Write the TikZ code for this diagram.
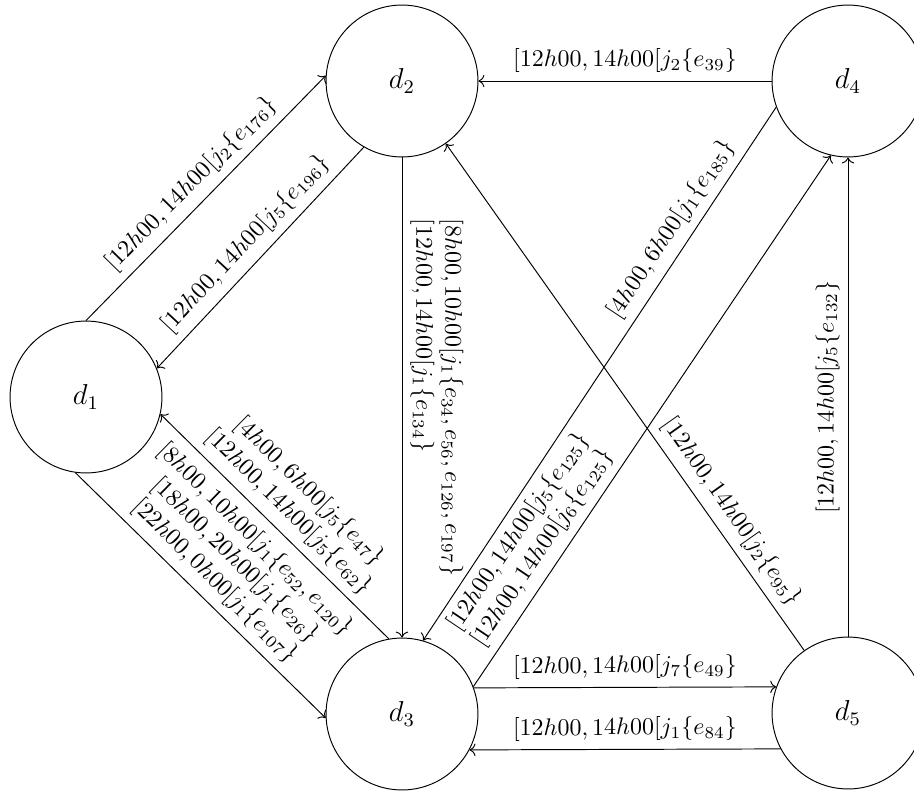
\documentclass[tikz,border=0pt]{standalone}
\usetikzlibrary{arrows.meta}
\begin{document}
\begin{tikzpicture}[x=0.4167pt,y=-0.4167pt,
  state/.style={circle,draw,minimum size=63.3pt,inner sep=0pt,font=\large},
  lab/.style={sloped,above,align=center,font=\normalsize},
  every edge/.style={draw,->}]
\useasboundingbox (0,0) rectangle (914,791);
\node[state] (d1) at (86,397) {$d_1$};
\node[state] (d2) at (402,81) {$d_2$};
\node[state] (d3) at (402,714) {$d_3$};
\node[state] (d4) at (848,81) {$d_4$};
\node[state] (d5) at (848,713) {$d_5$};

\draw[->] (d1.90) -- node[lab]{$[12h00, 14h00[j_2\{e_{176}\}$} (d2.176);
\draw[->] (d2.240) -- node[lab]{$[12h00, 14h00[j_5\{e_{196}\}$} (d1.22);
\draw[->] (d2.south) -- node[lab,align=left]{$[8h00, 10h00[j_1\{e_{34}, e_{56}, e_{126}, e_{197}\}$\\$[12h00, 14h00[j_1\{e_{134}\}$} (d3.north);
\draw[->] (d3.100) -- node[lab]{$[4h00, 6h00[j_5\{e_{47}\}$\\$[12h00, 14h00[j_5\{e_{62}\}$} (d1.-13);
\draw[->] (d1.262) -- node[lab]{$[8h00, 10h00[j_1\{e_{52}, e_{120}\}$\\$[18h00, 20h00[j_1\{e_{26}\}$\\$[22h00, 0h00[j_1\{e_{107}\}$} (d3.183);
\draw[->] (d4.west) -- node[lab]{$[12h00, 14h00[j_2\{e_{39}\}$} (d2.east);
\draw[->] (d3.20) -- node[lab]{$[12h00, 14h00[j_7\{e_{49}\}$} (d5.160);
\draw[->] (d5.208) -- node[lab]{$[12h00, 14h00[j_1\{e_{84}\}$} (d3.332);
\draw[->] (d5.north) -- node[lab]{$[12h00, 14h00[j_5\{e_{132}\}$} (d4.south);
\draw[->] (d5.125) -- node[lab,pos=0.25]{$[12h00, 14h00[j_2\{e_{95}\}$} (d2.-55);
\draw[->] (d4.200) -- node[lab,pos=0.25]{$[4h00, 6h00[j_1\{e_{185}\}$} (d3.74);
\draw[->] (d3.21) -- node[lab,pos=0.24]{$[12h00, 14h00[j_5\{e_{125}\}$\\$[12h00, 14h00[j_6\{e_{125}\}$} (d4.257);
\end{tikzpicture}
\end{document}
